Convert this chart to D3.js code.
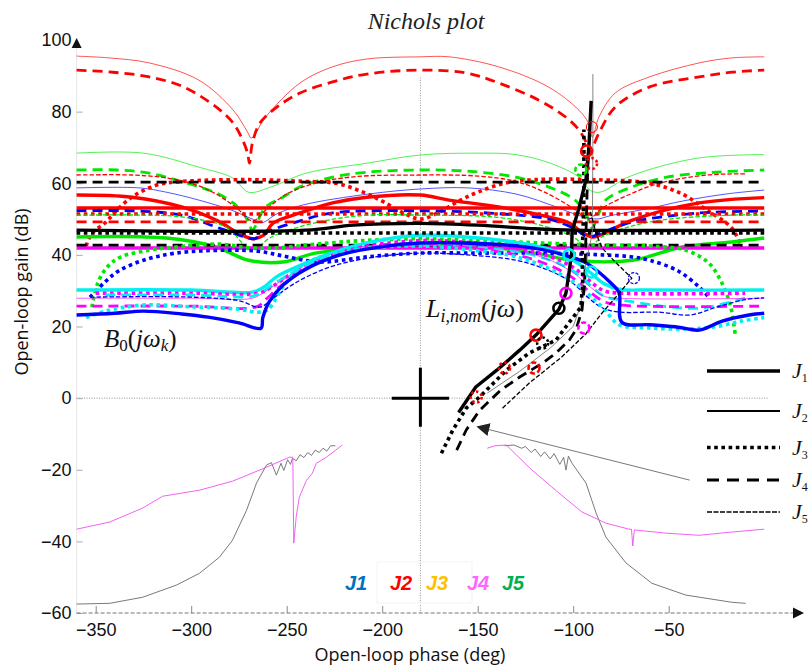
<!DOCTYPE html>
<html><head><meta charset="utf-8">
<script src="https://cdn.jsdelivr.net/npm/d3@7"></script>
<style>
html,body{margin:0;padding:0;background:#fff;}
svg{display:block;}
</style></head><body>
<svg id="chart" width="812" height="668"></svg>
<script>
// ---- axis ticks ----
const phaseTicks = [-350, -300, -250, -200, -150, -100, -50];
const gainTicks = [-60, -40, -20, 0, 20, 40, 60, 80, 100];

// ---- cost labels ----
const costNames = ["J1", "J2", "J3", "J4", "J5"];
const costColors = ["#0070c0", "#ff0000", "#ffc000", "#ff66ff", "#00b050"];

// ---- bounds B0(jωk): [phase deg, gain dB] ----
const redJ2 = [[-360,95.5],[-343,95],[-322,93.6],[-296,88.8],[-278,80.4],[-270.5,74.3],[-268.5,72.6],[-261,78.5],[-243,88],[-226,92.5],[-208,94.7],[-180,95.3],[-165,95.3],[-139,92.5],[-113,86.9],[-97,80.4],[-92,76.8],[-90,72.9],[-86.5,78.5],[-78,85.2],[-60,89.7],[-34,93.6],[-17,95],[0,95.3]];
const redJ4a = [[-360,91.6],[-341,91],[-322,89.7],[-304,86.9],[-287,81.3],[-278,76.8],[-273,72],[-270.5,68.4],[-269.5,65.6],[-268,71.2],[-264,76.8],[-255,81.3],[-243,85.2],[-226,88.3],[-208,90.5],[-180,91.6],[-156,90.8],[-139,88],[-118,83.2],[-104,78.5],[-97,74.9],[-93,71.2],[-91,68.5],[-89,71],[-86.5,74],[-78,81.3],[-60,86.9],[-34,89.7],[-17,91],[0,91.6]];
const greenJ2 = [[-360,68.4],[-325,68.4],[-296,64.5],[-278,61.4],[-270,57.5],[-258,59],[-240,62.8],[-208,65.6],[-180,67.9],[-150,68.4],[-130,68],[-112,65.6],[-97,61.7],[-91,58],[-86,57.5],[-70,62],[-35,67],[0,68]];
const greenJ4 = [[-360,63.7],[-339,63.7],[-322,62.8],[-304,60.3],[-287,57.3],[-278,54.5],[-273,51.7],[-270,49.2],[-268,47],[-261,53.4],[-252,56.1],[-243,59],[-226,61.7],[-208,63.1],[-180,63.7],[-156,63.4],[-130,61.7],[-113,59],[-99,55.3],[-93,51],[-90,47.5],[-87,51],[-83,55.3],[-69,59],[-51,61.7],[-25,63.1],[0,63.7]];
const redJ5 = [[-360,62.3],[-331,62.3],[-313,61.5],[-300,60],[-287,57],[-276,53],[-268,49.5],[-260,53],[-250,57],[-235,60],[-215,61.8],[-180,62.3],[-150,62],[-130,60.5],[-115,57.5],[-100,53],[-92,50],[-85,53],[-70,57],[-55,60],[-30,62.3],[-10,62.6]];
const blackJ4a = [[-360,60.3],[0,60.3]];
const redJ3a = [[-355,42.5],[-352,46],[-345,49],[-338,53],[-330,56.5],[-318,59.5],[-305,60.5],[-270,61],[-240,60.5],[-224,60],[-210,57.5],[-200,55],[-190,52],[-180,50],[-170,52],[-160,55],[-150,57.5],[-136,60],[-120,61],[-90,61],[-60,60],[-43,57],[-30,52.5],[-17,47.5],[-12,42.2]];
const blueJ2 = [[-360,58.7],[-327,58.7],[-313,57.5],[-296,55.3],[-279,52.5],[-268,50],[-263,49],[-255,51.5],[-241,54],[-207,57],[-180,58.4],[-155,58.7],[-130,57],[-112,54],[-97,51],[-88,50],[-80,51],[-60,53],[-43,55],[-20,57],[0,58.1]];
const redJ1a = [[-360,56.7],[-331,56.1],[-305,53.4],[-287,49.7],[-275,46],[-268,44.5],[-262,45.5],[-257,48.9],[-243,51.7],[-226,54.5],[-208,56.1],[-180,56.7],[-165,55.3],[-139,53.4],[-113,50.6],[-102,48.9],[-96,46.5],[-90,45],[-86,45.5],[-69,49.7],[-34,54.5],[0,56]];
const redJ1b = [[-360,53.1],[0,53.1]];
const blueJ4 = [[-360,52.3],[-331,52.3],[-305,51.1],[-287,47.8],[-272,45],[-267,44.5],[-260,46.5],[-243,49.5],[-226,51.7],[-180,52.3],[-139,51.5],[-113,50],[-100,47.5],[-92,45],[-86,46],[-69,49.2],[-34,51.7],[0,52.2]];
const redJ3b = [[-360,51.4],[0,51.4]];
const greenJ5 = [[-360,51.1],[-325,51.1],[-305,50.6],[-282,47.8],[-268,41.3],[-258,45],[-233,49.2],[-207,51.1],[-180,51.1],[-140,50.5],[-115,48],[-100,45],[-92,42],[-85,45],[-60,49.2],[-17,51.1],[0,51.1]];
const redJ4b = [[-360,49.2],[0,49.2]];
const blackJ1 = [[-360,46.9],[-240,46.9],[-215,48.3],[-180,48.8],[-150,48.3],[-120,47.3],[-100,46.9],[0,46.9]];
const blackJ3 = [[-360,46.1],[0,46.1]];
const greenJ1 = [[-360,45],[-313,44.7],[-287,42.2],[-270,38.5],[-252,38],[-235,40.5],[-208,41.9],[-180,43],[-150,42.5],[-120,40.5],[-100,38.5],[-69,38.5],[-43,42.2],[-17,43.6],[0,44.7]];
const blackJ4b = [[-360,42.7],[0,42.7]];
const magentaJ1 = [[-360,41.9],[0,41.9]];
const greenJ3 = [[-352,25.4],[-349,32],[-344,36.6],[-337,39.4],[-322,41.3],[-308,42.2],[-285,43],[-270,42],[-255,42],[-235,43],[-210,44],[-180,44.5],[-150,44],[-125,43.5],[-100,43],[-80,42.7],[-60,42.5],[-41,41.3],[-29,37.7],[-22,32],[-17.5,25.4],[-15,17]];
const blueJ3 = [[-353,28.2],[-345,32.5],[-338,35.5],[-325,38.5],[-308,40.5],[-282,41.3],[-265,41],[-250,39.5],[-233,38],[-207,39.5],[-180,40.5],[-150,40.5],[-120,40.5],[-100,40.3],[-85,40],[-70,39.5],[-60,38.5],[-45,35.5],[-34,31],[-29,28.2]];
const cyanJ1 = [[-360,30.2],[-300,30.2],[-268,29.6],[-262,31],[-255,34],[-241,37.5],[-224,41],[-207,43.5],[-180,45.5],[-156,45],[-130,43.5],[-112,41.5],[-100,38.5],[-92,35.5],[-84,32],[-76,30.4],[-60,30.2],[0,30.2]];
const magentaJ3 = [[-350,29.3],[-300,29.3],[-265,29.3],[-258,31],[-248,34.5],[-232,38.5],[-212,42],[-180,44],[-156,43.5],[-130,42],[-112,39.5],[-100,36.5],[-92,33],[-84,30],[-74,29.3],[-10,29.3]];
const cyanJ4 = [[-345,28.8],[-300,28.8],[-268,28.5],[-262,30],[-252,33.5],[-238,37.5],[-218,41],[-200,42.5],[-180,43],[-156,42.5],[-130,41],[-112,38.5],[-100,35.5],[-91,31.5],[-84,28.5],[-70,27],[-50,25.5],[-34,25.1],[-20,26.5],[-8,28.2]];
const magentaJ2 = [[-360,27.9],[-300,27.9],[-268,27.9],[-262,29.5],[-252,33],[-236,37.5],[-215,41],[-195,42.8],[-180,43.3],[-156,42.8],[-130,41.3],[-112,38.5],[-100,35],[-91,31],[-84,28.5],[-76,27.9],[0,27.9]];
const magentaJ4 = [[-360,25.7],[-300,25.7],[-266,25.5],[-260,28],[-254,31],[-234,37.7],[-208,42.2],[-180,43],[-156,42],[-130,40],[-112,37],[-100,33.5],[-92,30],[-84,27],[-76,26],[0,25.7]];
const blueJ5 = [[-353,28.2],[-300,28.2],[-275,27.2],[-264,25.4],[-258,27.5],[-246,32],[-228,36.5],[-205,39.3],[-180,40.5],[-156,40],[-130,38.5],[-112,35.5],[-100,32],[-92,28],[-84,25],[-75,24],[-55,24],[-39,23.2],[-25,25.4],[-10,27.5],[0,28]];
const cyanJ3 = [[-355,22.5],[-345,24.3],[-325,26],[-300,25.5],[-275,24.8],[-265,24],[-260,24.6],[-252,31],[-243,36.6],[-226,40.5],[-205,42],[-180,42.5],[-156,41.5],[-130,39.5],[-112,36],[-100,32.5],[-92,29],[-84,25],[-76,20.5],[-60,19.6],[-40,19.3],[-25,20],[-12,21.5],[0,22.5]];
const blueJ1 = [[-360,23.2],[-340,23.7],[-325,24.3],[-305,23.5],[-291,22.6],[-275,21],[-263.5,19.5],[-262.5,22.5],[-259,27],[-252,31.5],[-240,36],[-222,40],[-200,42.3],[-180,43.3],[-156,43.3],[-130,42.5],[-112,41],[-102,39.5],[-93,37.7],[-80,32],[-76,29.5],[-74.5,21.2],[-60,20.5],[-45,19.8],[-34,19],[-22,21.5],[-8,23.2],[0,23.7]];

// ---- nominal open loops L_i,nom(jω) ----
const loopJ1 = [[-160,-4],[-151,3.1],[-140,7.8],[-128,13.4],[-119.5,17.6],[-107.5,24.8],[-103.8,29.3],[-102.2,35],[-100.8,40.5],[-100.6,46.5],[-97,53],[-93.3,61],[-91.8,70],[-90.6,83]];
const loopJ2 = [[-145,1.4],[-128,7.5],[-112,14],[-100,20],[-96,26],[-94,36],[-90,46],[-89.7,70],[-89.7,90.5]];
const loopJ3 = [[-169,-15.4],[-163,-8.9],[-156,-2.8],[-149,0.3],[-135,7.8],[-123,12.6],[-109,16.2],[-104,19.8],[-96,25.4],[-95,32],[-95.3,40],[-94.8,48],[-94.4,56],[-94.4,66],[-94.4,75]];
const loopJ4 = [[-161,-14.5],[-156,-8.9],[-149,-3.4],[-138,2.2],[-128,5.9],[-116,9.8],[-109,12.6],[-102,16.2],[-98.6,19],[-95.4,24.6],[-94,32],[-93.5,42],[-93,52],[-92.5,62],[-92,70]];
const loopJ5 = [[-137,-2.8],[-123,4.2],[-106,11.5],[-93.3,18],[-85,23.7],[-77.7,28.2],[-69.3,33.5],[-78,38],[-85,42],[-88,46],[-91,52]];

// frequency markers on the loops: [phase, gain, colour, cost]
const markers = [
  [-119.5,17.6,"red","J1"],[-107.5,25.1,"black","J1"],[-103.8,29.3,"magenta","J1"],
  [-102.2,40,"cyan","J1"],[-90.5,35.2,"cyan","J1"],[-93,69,"red","J1"],
  [-90.4,65.5,"red","J3"],[-90.2,75.7,"red","J2"],[-136,8.4,"red","J3"],
  [-120.5,8.4,"red","J4"],[-150.8,0.3,"red","J3"],[-94.4,19.6,"magenta","J4"],
  [-68.2,33.5,"blue","J5"],[-96,63.7,"green","J4"],[-116,15.4,"black","J3"]
];

// ---- reference traces at the bottom ----
const grayLeft = [[-360,-57.5],[-342.7,-57.3],[-325.4,-55.6],[-307.7,-52.2],[-295.6,-48.9],[-285.2,-44.4],[-278.4,-39.7],[-271,-31.3],[-265.8,-23.7],[-260.6,-18.7],[-258,-18],[-255.4,-21.5],[-253,-18.2],[-251.5,-20.2],[-249.5,-17.2],[-248,-18.5],[-247,-16.8],[-245,-17.5],[-243,-15.8],[-241,-16.6],[-239,-15.2],[-237,-16],[-235,-14.5],[-233,-15.2],[-231,-14],[-229,-14.8],[-227,-13.3],[-224.5,-13.3]];
const magentaLeft = [[-360,-36.6],[-342.7,-34.6],[-325.4,-30.7],[-315,-27.4],[-295.6,-25.7],[-278.4,-23.2],[-260.6,-19.3],[-248.6,-16.5],[-246.8,-16.5],[-246.3,-40.5],[-245,-33],[-243.4,-27.7],[-239.7,-23],[-236.6,-21],[-234.5,-18.2],[-229.2,-16.5],[-220.9,-13.1]];
const grayRight = [[-136,-13.3],[-131,-13.1],[-127,-14],[-125,-13.5],[-122,-15.2],[-120,-14.2],[-117,-16.3],[-115,-15],[-112,-17],[-110,-15.5],[-107,-18.5],[-105,-16.5],[-103.8,-20.1],[-102.5,-16.2],[-100.6,-18.2],[-93.3,-23.7],[-88,-32.1],[-82.9,-38.8],[-72.4,-46],[-58.8,-51.7],[-41,-55],[-17,-57],[-9.7,-57.3]];
const magentaRight = [[-145,-14],[-141,-13.3],[-135,-13.1],[-121.6,-20.1],[-107.5,-26.5],[-95.4,-31.8],[-82.9,-34.9],[-70.8,-36.6],[-69.5,-36.6],[-68.8,-41.3],[-68,-36.8],[-51.5,-37.7],[-34.2,-38.3],[-17,-37.4],[0,-36.6]];

// annotation arrow (tail, head) and critical point
const arrowTail = [-39, -22.9];
const arrowHead = [-150, -8];
const criticalPoint = [-180, 0];

// ---------------- drawing ----------------
const palette = {red:"#ff0000", green:"#00e800", blue:"#0000ff", cyan:"#00f0f0", magenta:"#ff00ff", black:"#000000"};
const costStyle = {
  J1:{w:3.4, dash:null},
  J2:{w:0.9, dash:null},
  J3:{w:3.6, dash:"3.6,3.6"},
  J4:{w:2.8, dash:"10,6"},
  J5:{w:1.3, dash:"4.5,2"}
};

const bounds = [
  [redJ2,"red","J2"],[redJ4a,"red","J4"],[greenJ2,"green","J2"],[greenJ4,"green","J4"],
  [redJ5,"red","J5"],[blueJ2,"blue","J2"],[redJ3a,"red","J3"],[blackJ4a,"black","J4"],
  [redJ1a,"red","J1"],[redJ1b,"red","J1"],[blueJ4,"blue","J4"],[redJ3b,"red","J3"],
  [greenJ5,"green","J5"],[redJ4b,"red","J4"],[greenJ1,"green","J1"],
  [magentaJ1,"magenta","J1"],[blackJ4b,"black","J4"],
  [blueJ3,"blue","J3"],[greenJ3,"green","J3"],
  [cyanJ1,"cyan","J1"],[magentaJ3,"magenta","J3"],[cyanJ4,"cyan","J4"],[magentaJ2,"magenta","J2"],
  [magentaJ4,"magenta","J4"],[blueJ5,"blue","J5"],[cyanJ3,"cyan","J3"],[blueJ1,"blue","J1"],
  [blackJ3,"black","J3"],[blackJ1,"black","J1"]
];
const loops = [[loopJ2,"J2"],[loopJ5,"J5"],[loopJ4,"J4"],[loopJ3,"J3"],[loopJ1,"J1"]];

const svg = d3.select("#chart");
const x = d3.scaleLinear().domain([-360, 0]).range([76.6, 764.2]);
const y = d3.scaleLinear().domain([-60, 100]).range([613, 40]);

// y axis line (faint)
svg.append("line").attr("x1", x(-360)).attr("x2", x(-360)).attr("y1", y(100)).attr("y2", y(-60))
  .attr("stroke", "#e6e6e6").attr("stroke-width", 1);

// reference grid: 0 dB and -180 deg
svg.append("line").attr("x1", x(-360)).attr("x2", x(2)).attr("y1", y(0)).attr("y2", y(0))
  .attr("stroke", "#777").attr("stroke-width", 0.8).attr("stroke-dasharray", "1,1.5");
svg.append("line").attr("x1", x(-180)).attr("x2", x(-180)).attr("y1", y(89.5)).attr("y2", y(-60))
  .attr("stroke", "#777").attr("stroke-width", 0.8).attr("stroke-dasharray", "1,1.5");

// axes
const xAxis = d3.axisBottom(x).tickValues(phaseTicks).tickSize(-7).tickPadding(10).tickFormat(d3.format("d"));
const gx = svg.append("g").attr("transform", `translate(0,${y(-60)})`).call(xAxis);
gx.select(".domain").remove();
gx.selectAll(".tick line").attr("stroke", "#888");
gx.selectAll("text").attr("font-family", "Liberation Sans, Arial, sans-serif").attr("font-size", 18).attr("fill", "#111");

const yAxis = d3.axisLeft(y).tickValues(gainTicks).tickSize(-6).tickPadding(5).tickFormat(d3.format("d"));
const gy = svg.append("g").attr("transform", `translate(${x(-360)},0)`).call(yAxis);
gy.select(".domain").remove();
gy.selectAll(".tick line").attr("stroke", "#aaa");
gy.selectAll("text").attr("font-family", "Liberation Sans, Arial, sans-serif").attr("font-size", 18).attr("fill", "#111");
gy.selectAll(".tick").filter(d => d === 100).select("line").remove();

// x axis: dashed with arrow head
svg.append("line").attr("x1", x(-360)).attr("x2", 795).attr("y1", y(-60)).attr("y2", y(-60))
  .attr("stroke", "#777").attr("stroke-width", 1).attr("stroke-dasharray", "4,2");
svg.append("path").attr("d", `M793,${y(-60)-5.5}L804,${y(-60)}L793,${y(-60)+5.5}Z`).attr("fill", "#111");
// y axis arrow head
svg.append("path").attr("d", `M${x(-360)},${y(100)-2}L${x(-360)+5},${y(100)+8}L${x(-360)-5},${y(100)+8}Z`).attr("fill", "#111");

const line = d3.line().x(d => x(d[0])).y(d => y(d[1])).curve(d3.curveCatmullRom.alpha(0.5));
const lineStraight = d3.line().x(d => x(d[0])).y(d => y(d[1])).curve(d3.curveLinear);

// bounds
const gb = svg.append("g");
bounds.forEach(([pts, col, j]) => {
  const st = costStyle[j];
  gb.append("path").attr("d", line(pts)).attr("fill", "none")
    .attr("stroke", palette[col]).attr("stroke-width", st.w)
    .attr("stroke-dasharray", st.dash)
    .attr("stroke-opacity", j === "J2" ? 0.75 : 1)
    .attr("stroke-linejoin", "round");
});

// bottom traces
[[grayLeft,"#6a6a6a"],[grayRight,"#6a6a6a"],[magentaLeft,"#f24ef2"],[magentaRight,"#f24ef2"]].forEach(([pts, c]) => {
  svg.append("path").attr("d", lineStraight(pts)).attr("fill", "none").attr("stroke", c).attr("stroke-width", 0.9);
});

// nominal loops
loops.forEach(([pts, j]) => {
  const st = costStyle[j];
  svg.append("path").attr("d", lineStraight(pts)).attr("fill", "none")
    .attr("stroke", j === "J2" ? "#777" : "#000").attr("stroke-width", st.w)
    .attr("stroke-dasharray", st.dash).attr("stroke-linejoin", "round");
});

// markers
svg.append("g").selectAll("circle").data(markers).join("circle")
  .attr("cx", d => x(d[0])).attr("cy", d => y(d[1])).attr("r", 5.5)
  .attr("fill", "none").attr("stroke", d => palette[d[2]])
  .attr("stroke-width", d => d[3] === "J2" ? 1 : (d[3] === "J5" ? 1.3 : 2.6))
  .attr("stroke-dasharray", d => d[3] === "J3" ? "2.5,2.5" : (d[3] === "J4" ? "5,2.5" : (d[3] === "J5" ? "3,1.5" : null)));

// critical point cross
svg.append("line").attr("x1", x(criticalPoint[0] - 15)).attr("x2", x(criticalPoint[0] + 15))
  .attr("y1", y(0)).attr("y2", y(0)).attr("stroke", "#000").attr("stroke-width", 3);
svg.append("line").attr("x1", x(criticalPoint[0])).attr("x2", x(criticalPoint[0]))
  .attr("y1", y(8.5)).attr("y2", y(-8)).attr("stroke", "#000").attr("stroke-width", 3);

// annotation arrow
svg.append("defs").append("marker").attr("id", "ah").attr("viewBox", "0 0 10 10")
  .attr("refX", 9).attr("refY", 5).attr("markerWidth", 13).attr("markerHeight", 13)
  .attr("markerUnits", "userSpaceOnUse").attr("orient", "auto")
  .append("path").attr("d", "M0,0L10,5L0,10Z").attr("fill", "#222");
svg.append("line").attr("x1", x(arrowTail[0])).attr("y1", y(arrowTail[1]))
  .attr("x2", x(arrowHead[0])).attr("y2", y(arrowHead[1]))
  .attr("stroke", "#555").attr("stroke-width", 0.8).attr("marker-end", "url(#ah)");

// title
svg.append("text").attr("x", 426).attr("y", 29).attr("text-anchor", "middle")
  .attr("font-family", "Liberation Serif, serif").attr("font-style", "italic").attr("font-size", 24)
  .attr("fill", "#222").text("Nichols plot");

// axis titles
svg.append("text").attr("x", 410).attr("y", 661).attr("text-anchor", "middle")
  .attr("font-family", "Open Sans, sans-serif").attr("font-size", 18).attr("fill", "#111")
  .text("Open-loop phase (deg)");
svg.append("text").attr("transform", "translate(28,292) rotate(-90)").attr("text-anchor", "middle")
  .attr("font-family", "Open Sans, sans-serif").attr("font-size", 18).attr("fill", "#111")
  .text("Open-loop gain (dB)");

// math labels
const serif = "Liberation Serif, DejaVu Serif, serif";
const b0 = svg.append("text").attr("x", 104).attr("y", 347).attr("font-family", serif).attr("font-size", 25).attr("fill", "#111");
b0.append("tspan").attr("font-style", "italic").text("B");
b0.append("tspan").attr("font-size", 17).attr("dy", 4).text("0");
b0.append("tspan").attr("dy", -4).text("(");
b0.append("tspan").attr("font-style", "italic").text("jω");
b0.append("tspan").attr("font-style", "italic").attr("font-size", 17).attr("dy", 4).text("k");
b0.append("tspan").attr("dy", -4).text(")");

const ln = svg.append("text").attr("x", 426).attr("y", 317).attr("font-family", serif).attr("font-size", 26).attr("fill", "#111");
ln.append("tspan").attr("font-style", "italic").text("L");
ln.append("tspan").attr("font-style", "italic").attr("font-size", 18).attr("dy", 5).text("i,nom");
ln.append("tspan").attr("dy", -5).text("(");
ln.append("tspan").attr("font-style", "italic").text("jω");
ln.append("tspan").text(")");

// cost colour key
svg.append("rect").attr("x", 377).attr("y", 562).attr("width", 95).attr("height", 41)
  .attr("fill", "none").attr("stroke", "#f3f3f3").attr("stroke-width", 1);
const keyX = [345, 390, 426, 467, 502];
svg.append("g").selectAll("text").data(costNames).join("text")
  .attr("x", (d, i) => keyX[i]).attr("y", 590)
  .attr("font-family", "Liberation Sans, Arial, sans-serif").attr("font-weight", "bold").attr("font-style", "italic")
  .attr("font-size", 20).attr("fill", (d, i) => costColors[i]).text(d => d);

// line style legend
const legY = [371, 411, 447.5, 480, 512];
const lg = svg.append("g");
costNames.forEach((j, i) => {
  const st = costStyle[j];
  lg.append("line").attr("x1", 707).attr("x2", 780).attr("y1", legY[i]).attr("y2", legY[i])
    .attr("stroke", "#000").attr("stroke-width", j === "J2" ? 1.8 : (j === "J5" ? 1.5 : st.w))
    .attr("stroke-dasharray", j === "J3" ? "3.6,3.6" : (j === "J4" ? "12,8" : (j === "J5" ? "5,1.5" : null)));
  const t = lg.append("text").attr("x", 792).attr("y", legY[i] + 7).attr("font-family", serif)
    .attr("font-size", 22).attr("fill", "#111");
  t.append("tspan").attr("font-style", "italic").text("J");
  t.append("tspan").attr("font-size", 12).attr("dy", 4).text(String(i + 1));
});
</script>
</body></html>
